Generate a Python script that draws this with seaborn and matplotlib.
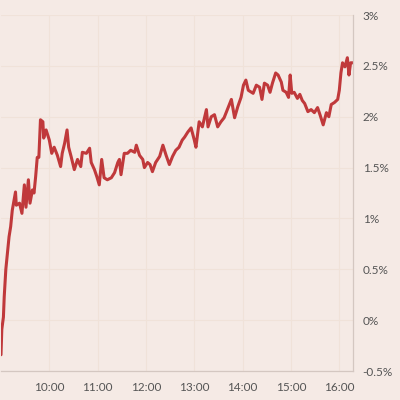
import pandas as pd
import matplotlib
matplotlib.use("Agg")
import matplotlib.pyplot as plt
import matplotlib.dates as mdates
import seaborn as sns

# intraday change
times = ["09:00", "09:01", "09:03", "09:04", "09:06", "09:08", "09:10", "09:12",
         "09:14", "09:18", "09:19", "09:23", "09:26", "09:29", "09:31", "09:34",
         "09:36", "09:39", "09:41", "09:43", "09:45", "09:47", "09:49", "09:52",
         "09:53", "09:56", "10:00", "10:03", "10:06", "10:10", "10:14", "10:16",
         "10:19", "10:22", "10:24", "10:27", "10:31", "10:35", "10:39", "10:41",
         "10:46", "10:50", "10:52", "10:56", "10:59", "11:02", "11:05", "11:08",
         "11:12", "11:17", "11:21", "11:25", "11:27", "11:29", "11:33", "11:37",
         "11:41", "11:46", "11:48", "11:52", "11:56", "11:58", "12:02", "12:05",
         "12:08", "12:12", "12:17", "12:21", "12:25", "12:29", "12:33", "12:37",
         "12:41", "12:45", "12:48", "12:52", "12:56", "13:00", "13:02", "13:06",
         "13:10", "13:15", "13:17", "13:21", "13:25", "13:29", "13:33", "13:37",
         "13:41", "13:46", "13:50", "13:54", "13:58", "14:01", "14:04", "14:07",
         "14:11", "14:13", "14:17", "14:21", "14:24", "14:27", "14:31", "14:34",
         "14:37", "14:41", "14:44", "14:48", "14:50", "14:54", "14:57", "14:59",
         "15:01", "15:04", "15:08", "15:11", "15:14", "15:17", "15:21", "15:25",
         "15:29", "15:33", "15:36", "15:40", "15:44", "15:47", "15:50", "15:54",
         "15:58", "16:00", "16:02", "16:04", "16:07", "16:10", "16:12", "16:14",
         "16:17"]
change = [-0.34, -0.09, 0.03, 0.23, 0.50, 0.66, 0.82, 0.92,
          1.08, 1.26, 1.13, 1.15, 1.05, 1.33, 1.11, 1.38,
          1.15, 1.28, 1.25, 1.41, 1.60, 1.60, 1.97, 1.95,
          1.79, 1.87, 1.77, 1.64, 1.70, 1.62, 1.51, 1.64,
          1.74, 1.87, 1.70, 1.61, 1.48, 1.58, 1.51, 1.65,
          1.64, 1.69, 1.55, 1.48, 1.41, 1.33, 1.58, 1.40,
          1.38, 1.40, 1.45, 1.55, 1.58, 1.43, 1.64, 1.64,
          1.67, 1.65, 1.72, 1.62, 1.58, 1.50, 1.55, 1.53,
          1.46, 1.55, 1.61, 1.72, 1.62, 1.53, 1.61, 1.67,
          1.70, 1.77, 1.80, 1.85, 1.89, 1.77, 1.70, 1.95,
          1.90, 2.07, 1.90, 2.00, 2.02, 1.90, 1.95, 1.99,
          2.07, 2.17, 1.99, 2.10, 2.19, 2.31, 2.36, 2.26,
          2.24, 2.23, 2.31, 2.29, 2.17, 2.33, 2.31, 2.24,
          2.33, 2.43, 2.41, 2.34, 2.26, 2.24, 2.19, 2.41,
          2.23, 2.24, 2.18, 2.22, 2.16, 2.13, 2.05, 2.07,
          2.04, 2.09, 2.02, 1.92, 2.04, 2.00, 2.12, 2.14,
          2.17, 2.26, 2.43, 2.53, 2.49, 2.58, 2.41, 2.53,
          2.53]
hour_ticks = ["10:00", "11:00", "12:00", "13:00", "14:00", "15:00", "16:00"]
pct_ticks = [-0.5, 0, 0.5, 1, 1.5, 2, 2.5, 3]
pct_labels = ["-0.5%", "0%", "0.5%", "1%", "1.5%", "2%", "2.5%", "3%"]

bg = "#f5eae5"
sns.set_style("whitegrid", {"axes.facecolor": bg, "figure.facecolor": bg,
                            "grid.color": "#f0e2d9", "axes.edgecolor": "#d4c7c1"})
plt.rcParams["font.family"] = ["Lato", "DejaVu Sans"]

day = "2024-01-02 "
df = pd.DataFrame({"time": pd.to_datetime([day + t for t in times]),
                   "change": change})

fig = plt.figure(figsize=(4, 4), dpi=100)
ax = fig.add_axes([0.0025, 0.0725, 0.88, 0.89])
sns.lineplot(data=df, x="time", y="change", ax=ax, color="#c0393b",
             linewidth=2.2)

ax.set_xlim(pd.Timestamp(day + "09:00"), pd.Timestamp(day + "16:17"))
ax.set_ylim(-0.5, 3)
ax.set_xticks(pd.to_datetime([day + t for t in hour_ticks]))
ax.xaxis.set_major_formatter(mdates.DateFormatter("%H:%M"))
ax.set_yticks(pct_ticks)
ax.set_yticklabels(pct_labels)
ax.yaxis.tick_right()
ax.tick_params(axis="both", length=0, labelsize=8.5, labelcolor="#555555")
ax.tick_params(axis="x", pad=8)
ax.tick_params(axis="y", pad=7)
ax.set_xlabel("")
ax.set_ylabel("")
ax.grid(True, linewidth=0.8)
for side in ["top", "left"]:
    ax.spines[side].set_visible(False)
ax.spines["bottom"].set_linewidth(0.9)
ax.spines["right"].set_linewidth(0.9)

fig.savefig("out.png", dpi=100, facecolor=bg)
